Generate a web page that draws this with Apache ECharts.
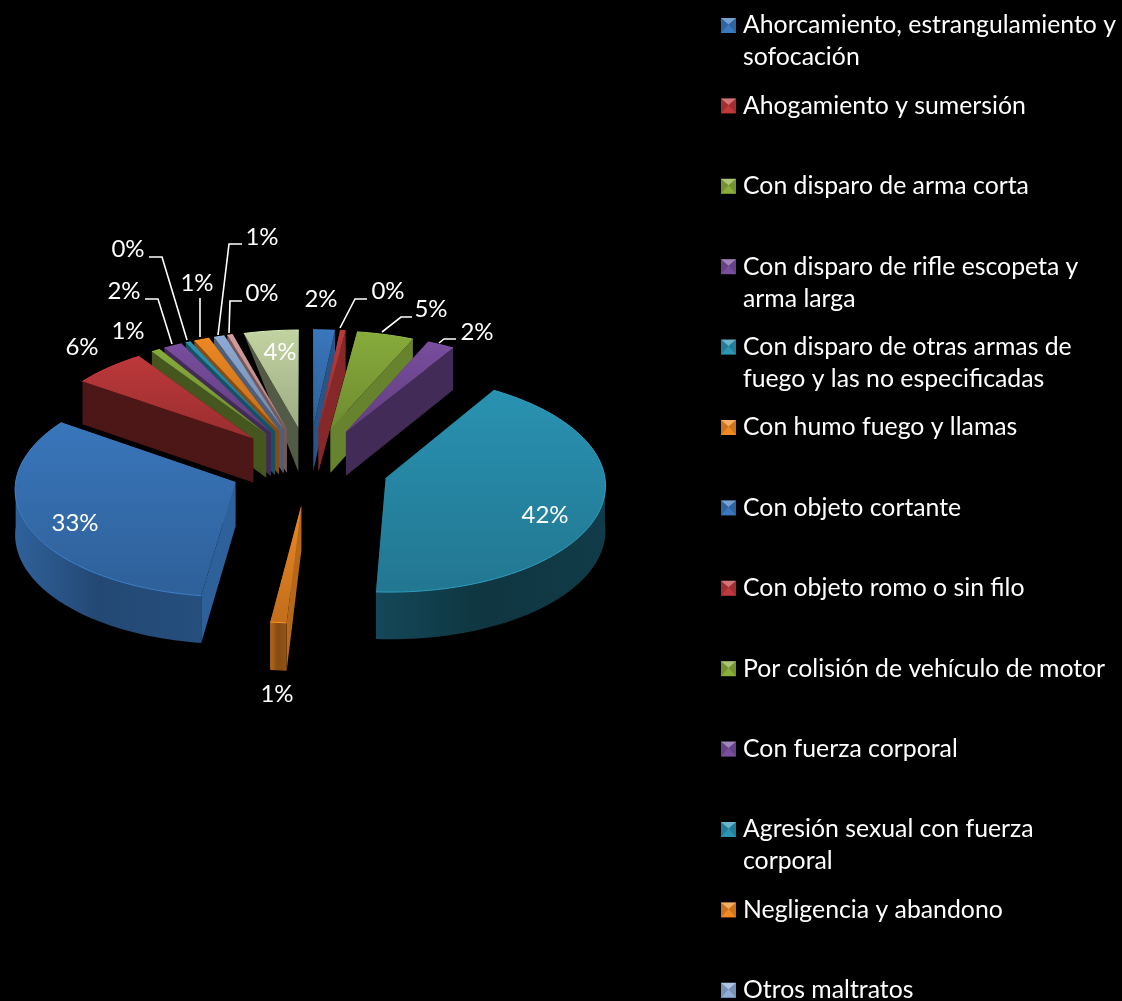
<!DOCTYPE html>
<html>
<head>
<meta charset="utf-8">
<style>html,body{margin:0;padding:0;background:#000}#c{width:1122px;height:1001px}</style>
<script src="https://cdn.jsdelivr.net/npm/echarts@6/dist/echarts.min.js"></script>
</head>
<body>
<div id="c"></div>
<script>
const categories = [
  "Ahorcamiento, estrangulamiento y\nsofocación",
  "Ahogamiento y sumersión",
  "Con disparo de arma corta",
  "Con disparo de rifle escopeta y\narma larga",
  "Con disparo de otras armas de\nfuego y las no especificadas",
  "Con humo fuego y llamas",
  "Con objeto cortante",
  "Con objeto romo o sin filo",
  "Por colisión de vehículo de motor",
  "Con fuerza corporal",
  "Agresión sexual con fuerza\ncorporal",
  "Negligencia y abandono",
  "Otros maltratos",
  "Otros 14",
  "Otros 15"
];
const legendCount = 13;
const values = [1.72, 0.44, 4.52, 2.2, 42.08, 1.11, 32.5, 5.9, 0.72, 1.5, 0.42, 1.25, 0.85, 0.44, 4.35];

// styling
const colors = ["#3a78bf","#c0393b","#8aae3c","#7a4fa0","#2a95b5","#f28a23","#3a78bf","#c0393b","#8aae3c","#7a4fa0","#2a95b5","#f28a23","#8fadd8","#d9a0a0","#c6d7a4"];
const sideShade = [.7,.7,.75,.55,.4,.75,.8,.4,.5,.55,.55,.55,.55,.55,.42];
const rimShade  = [.6,.6,.6,.55,.36,.55,.6,.4,.5,.55,.55,.55,.55,.55,.42];
const drawOrder = [14,13,12,11,10,9,8,7,0,1,2,3,4,6,5];
const taperedSlice = 14;

// projection of the tilted, exploded pie
const cx = 309, cy = 466, radius = 218, explode = 80, depthQ = 0.49, persp = 0.00024, thick = 44.5;

// label layout: centre of each text and leader polyline (null = none)
const labelCentres = [[321,299],[388,291],[431,309],[477,332],[545,515],[277,694],[75,523],[82,347],[128,331],[124,291],[128,249],[197,283],[262,237],[262,293],[280,352]];
const leaders = [null,[[340,328],[355,299],[367,299]],[[382,332],[401,317],[412,317]],[[439,343],[444,339],[456,339]],null,null,null,null,null,
  [[172,344],[158,299],[145,299]],[[187,340],[162,257],[149,257]],[[200,337],[200,298]],[[218,335],[229,244],[242,244]],[[229,333],[230,301],[242,301]],null];

const FONT = 'Lato';
const total = values.reduce((a, b) => a + b, 0);
const starts = []; values.reduce((acc, v, i) => { starts[i] = acc; return acc + v; }, 0);

function shade(hex, f) {
  const n = parseInt(hex.slice(1), 16);
  const c = [n >> 16, (n >> 8) & 255, n & 255].map(x => Math.round(Math.min(255, x * f)));
  return 'rgb(' + c.join(',') + ')';
}
function proj(u, v, down) {
  const s = 1 / (1 + persp * v);
  return [cx + u * s, cy - depthQ * v * s + thick * s * down];
}
function renderSlice(i) {
  const a0 = starts[i] / total * 2 * Math.PI;
  const a1 = (starts[i] + values[i]) / total * 2 * Math.PI;
  const mid = (a0 + a1) / 2;
  const au = explode * Math.sin(mid), av = explode * Math.cos(mid);
  const at = a => [au + radius * Math.sin(a), av + radius * Math.cos(a)];
  const n = Math.max(2, Math.ceil((a1 - a0) / 0.03));
  const rim = [];
  for (let k = 0; k <= n; k++) rim.push(at(a0 + (a1 - a0) * k / n));
  const rimTop = rim.map(p => proj(p[0], p[1], 0));
  const apexT = proj(au, av, 0), apexB = proj(au, av, 1);
  const base = colors[i];
  const LG = echarts.graphic.LinearGradient;
  const children = [];
  const side = shade(base, sideShade[i]);
  const lastBot = proj(rim[n][0], rim[n][1], 1);
  const firstBot = i === taperedSlice ? rimTop[0] : proj(rim[0][0], rim[0][1], 1);
  children.push({ type: 'polygon', shape: { points: [apexT, rimTop[0], firstBot, apexB] }, style: { fill: side } });
  children.push({ type: 'polygon', shape: { points: [apexT, rimTop[n], lastBot, apexB] }, style: { fill: side } });
  // the outer wall is only seen where it faces the viewer
  const w0 = Math.max(a0, Math.PI / 2), w1 = Math.min(a1, Math.PI * 1.5);
  if (w1 > w0) {
    const m = Math.max(2, Math.ceil((w1 - w0) / 0.03));
    const top = [], bot = [];
    for (let k = 0; k <= m; k++) {
      const p = at(w0 + (w1 - w0) * k / m);
      top.push(proj(p[0], p[1], 0));
      bot.push(proj(p[0], p[1], 1));
    }
    const r = rimShade[i];
    children.push({ type: 'polygon', shape: { points: top.concat(bot.reverse()) },
      style: { fill: new LG(0, 0, 1, 0, [
        { offset: 0, color: shade(base, r * 1.35) },
        { offset: 0.45, color: shade(base, r) },
        { offset: 1, color: shade(base, r * 1.1) }]) } });
  }
  children.push({ type: 'polygon', shape: { points: [apexT].concat(rimTop) },
    style: { fill: new LG(0, 0, 0, 1, [
      { offset: 0, color: shade(base, 0.98) },
      { offset: 1, color: shade(base, 0.8) }]) } });
  children.push({ type: 'polyline', shape: { points: rimTop }, style: { fill: 'none', stroke: shade(base, 1.08), lineWidth: 1 } });
  return { type: 'group', children };
}
function renderLabels(i) {
  const children = [];
  if (leaders[i]) children.push({ type: 'polyline', shape: { points: leaders[i] }, style: { fill: 'none', stroke: '#fff', lineWidth: 1.6 } });
  children.push({ type: 'text', x: labelCentres[i][0], y: labelCentres[i][1],
    style: { text: Math.round(values[i]) + '%', fill: '#fff', font: '24px ' + FONT, align: 'center', verticalAlign: 'middle' } });
  return { type: 'group', children };
}

const series = drawOrder.map(i => ({
  type: 'custom', name: categories[i].split('\n')[0], coordinateSystem: 'none', silent: true,
  itemStyle: { color: colors[i] }, data: [[values[i]]], z: 2,
  renderItem: () => renderSlice(i)
}));
series.push({
  type: 'custom', name: 'etiquetas', coordinateSystem: 'none', silent: true, z: 3,
  data: values.map(v => [v]), renderItem: p => renderLabels(p.dataIndex)
});

const rowTop = 10.5, rowStep = 80.4, iconX = 721, iconSize = 15, textX = 743;
const overlays = [];
categories.slice(0, legendCount).forEach((c, i) => {
  const y = rowTop + 7.5 + rowStep * i, x = iconX, m = iconSize;
  const mx = x + m / 2, my = y + m / 2 - 1;
  const tri = (pts, fill) => overlays.push({ type: 'polygon', z: 10, silent: true, shape: { points: pts }, style: { fill } });
  tri([[x, y], [x + m, y], [mx, my]], 'rgba(255,255,255,.3)');
  tri([[x, y], [mx, my], [x, y + m]], 'rgba(0,0,0,.16)');
  tri([[x + m, y], [mx, my], [x + m, y + m]], 'rgba(0,0,0,.16)');
  const parts = c.split('\n');
  if (parts[1]) overlays.push({ type: 'text', z: 10, silent: true, x: textX, y: rowTop + 15 + rowStep * i + 32,
    style: { text: parts[1], fill: '#fff', font: '24.8px ' + FONT, verticalAlign: 'middle' } });
});

const chart = echarts.init(document.getElementById('c'), null, { renderer: 'canvas' });
chart.setOption({
  backgroundColor: '#000',
  animation: false,
  legend: {
    type: 'plain', orient: 'vertical', left: iconX, top: rowTop, width: 400, height: 1100, padding: 0,
    itemWidth: iconSize, itemHeight: iconSize,
    itemGap: rowStep - 30, icon: 'rect', selectedMode: false,
    data: categories.slice(0, legendCount).map(c => c.split('\n')[0]),
    textStyle: { color: '#fff', fontFamily: FONT, fontSize: 24.8, lineHeight: 30, padding: [0, 0, 0, 2] }
  },
  graphic: { elements: overlays },
  series
});
</script>
</body>
</html>
